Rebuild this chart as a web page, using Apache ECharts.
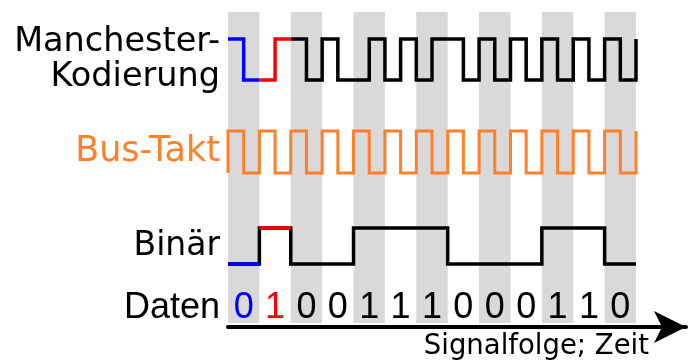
<!DOCTYPE html>
<html>
<head>
<meta charset="utf-8">
<script src="https://cdn.jsdelivr.net/npm/echarts@6/dist/echarts.min.js"></script>
<style>
html, body { margin: 0; padding: 0; background: #fff; }
#chart { width: 689px; height: 362px; }
</style>
</head>
<body>
<div id="chart"></div>
<script>
// Datenbits
var bits = [0, 1, 0, 0, 1, 1, 1, 0, 0, 0, 1, 1, 0];
// Manchester-Kodierung: zwei Halbbits je Datenbit
var manchester = [1, 0, 0, 1, 1, 0, 1, 0, 0, 1, 0, 1, 0, 1, 1, 0, 1, 0, 1, 0, 1, 0, 1, 0, 1, 0];
var manchesterEnd = 1;
// Bus-Takt: zwei Halbbits je Takt
var clock = [1, 0, 1, 0, 1, 0, 1, 0, 1, 0, 1, 0, 1, 0, 1, 0, 1, 0, 1, 0, 1, 0, 1, 0, 1, 0];
var clockStart = 0;
var clockEnd = 1;
var rowLabels = ['Manchester-\nKodierung', 'Bus-Takt', 'Binär', 'Daten'];
var timeLabel = 'Signalfolge; Zeit';

var BLUE = '#0000ff', RED = '#ff0000', BLACK = '#000000', ORANGE = '#ff7f2a', GREY = '#d9d9d9';

function halves(levels, from, to) {
    var pts = [];
    for (var i = from; i < to; i++) {
        pts.push([i / 2, levels[i]]);
        pts.push([(i + 1) / 2, levels[i]]);
    }
    return pts;
}

function fullBits(levels, from, to) {
    var pts = [];
    for (var k = from; k < to; k++) {
        pts.push([k, levels[k]]);
        pts.push([k + 1, levels[k]]);
    }
    return pts;
}

function hiddenX(grid) {
    return { type: 'value', gridIndex: grid, min: 0, max: bits.length, show: false };
}

function labelY(grid, name, font, size, pad) {
    return {
        type: 'value', gridIndex: grid, min: 0, max: 1,
        axisLine: { show: false }, axisTick: { show: false },
        axisLabel: { show: false }, splitLine: { show: false },
        name: name, nameLocation: 'middle', nameRotate: 0, nameGap: 8,
        nameTextStyle: {
            fontFamily: font, fontSize: size, color: grid === 2 ? ORANGE : BLACK,
            align: 'right', verticalAlign: 'middle', lineHeight: 35,
            padding: pad || 0
        }
    };
}

function stepLine(grid, data, color, width, z) {
    return {
        type: 'line', xAxisIndex: grid, yAxisIndex: grid, data: data,
        symbol: 'none', clip: false, z: z || 3,
        lineStyle: { color: color, width: width, join: 'miter', cap: 'butt' }
    };
}

var option = {
    animation: false,
    backgroundColor: '#fff',
    grid: [
        { left: 228, right: 53, top: 12, height: 311 },   // Streifen
        { left: 228, right: 53, top: 39, height: 41 },    // Manchester
        { left: 228, right: 53, top: 131, height: 42 },   // Takt
        { left: 228, right: 53, top: 228, height: 36 },   // Binär
        { left: 228, right: 53, top: 295, height: 27 },   // Daten
        { left: 228, right: 3, top: 326, height: 1 }      // Zeitpfeil
    ],
    xAxis: [
        { type: 'category', gridIndex: 0, data: bits.map(function (b, k) { return k; }), show: false },
        hiddenX(1), hiddenX(2), hiddenX(3), hiddenX(4),
        {
            type: 'value', gridIndex: 5, min: 0, max: 1,
            axisLine: { show: true, symbol: ['none', 'arrow'], symbolSize: [24, 32],
                lineStyle: { color: BLACK, width: 4 } },
            axisTick: { show: false }, axisLabel: { show: false }, splitLine: { show: false },
            name: timeLabel, nameLocation: 'end', nameGap: -37,
            nameTextStyle: { fontFamily: 'DejaVu Sans', fontSize: 27.5, color: BLACK,
                align: 'right', verticalAlign: 'top', padding: [6, 0, 0, 0] }
        }
    ],
    yAxis: [
        { type: 'value', gridIndex: 0, min: 0, max: 1, show: false },
        labelY(1, rowLabels[0], 'DejaVu Sans', 33.5, [0, 0, 16, 0]),
        labelY(2, rowLabels[1], 'DejaVu Sans', 35),
        labelY(3, rowLabels[2], 'DejaVu Sans', 33),
        labelY(4, rowLabels[3], 'Liberation Sans', 36),
        { type: 'value', gridIndex: 5, min: 0, max: 1, show: false }
    ],
    series: [
        {
            type: 'bar', xAxisIndex: 0, yAxisIndex: 0, barCategoryGap: '0%', z: 1,
            itemStyle: { color: GREY },
            data: bits.map(function (b, k) { return k % 2 === 0 ? 1 : '-'; })
        },
        stepLine(1, halves(manchester, 4, manchester.length).concat([[bits.length, manchesterEnd]]), BLACK, 3.5),
        stepLine(1, halves(manchester, 0, 2), BLUE, 3.5, 4),
        stepLine(1, halves(manchester, 2, 4), RED, 3.5, 4),
        stepLine(2, [[0, clockStart]].concat(halves(clock, 0, clock.length)).concat([[bits.length, clockEnd]]), ORANGE, 3),
        stepLine(3, fullBits(bits, 0, bits.length), BLACK, 3.5),
        stepLine(3, [[0, bits[0]], [1, bits[0]]], BLUE, 3.5, 4),
        stepLine(3, [[1, bits[1]], [2, bits[1]]], RED, 3.5, 4),
        {
            type: 'scatter', xAxisIndex: 4, yAxisIndex: 4, symbol: 'circle', symbolSize: 0, z: 4,
            itemStyle: { color: BLACK, opacity: 1 },
            label: {
                show: true, position: [0, 0], align: 'center', verticalAlign: 'middle',
                fontFamily: 'Liberation Sans', fontSize: 36, textBorderWidth: 0, opacity: 1
            },
            data: bits.map(function (b, k) {
                return {
                    value: [k + 0.5, 0.5],
                    label: { formatter: String(b), color: k === 0 ? BLUE : (k === 1 ? RED : BLACK) }
                };
            })
        }
    ]
};

var chart = echarts.init(document.getElementById('chart'));
chart.setOption(option);
</script>
</body>
</html>
